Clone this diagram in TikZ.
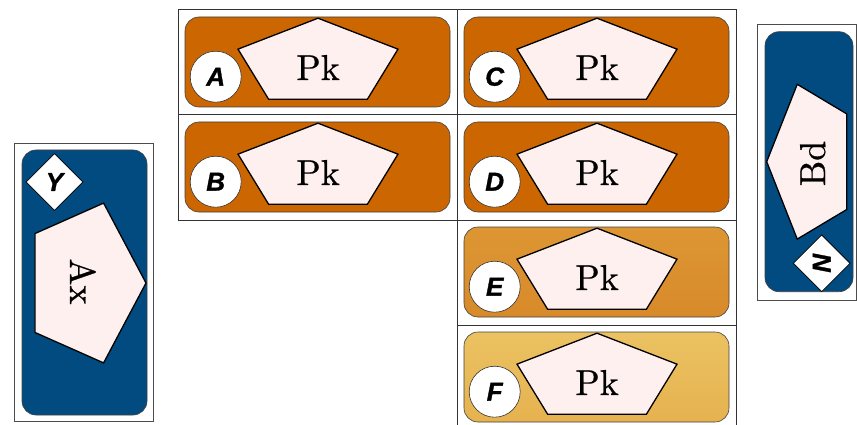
\documentclass[tikz,border=0pt]{standalone}
\usepackage{fontspec}
\newfontfamily\lettfont{Liberation Sans}[FakeBold=1.2]
\newfontfamily\pkfont{lmroman10-regular}[Extension=.otf, FakeBold=0.6]
\usetikzlibrary{shapes.geometric}
\definecolor{orng}{HTML}{CC6600}
\definecolor{etop}{HTML}{DD9633}
\definecolor{ebot}{HTML}{D88A2A}
\definecolor{ftop}{HTML}{EBC262}
\definecolor{fbot}{HTML}{E6B24F}
\definecolor{navy}{HTML}{014B80}
\definecolor{pinkish}{HTML}{FFF0F0}
\newcommand{\pkcell}[5]{%
  \draw[cellline] (#2,#3) rectangle ({#2+279},{#3+105});
  \draw[boxline,#4] ({#2+7},{#3+7}) rectangle ({#2+272},{#3+97});
  \coordinate (#1p) at ({#2+140},{#3+53});
  \draw[pent, shift={(#1p)}] (0,-44.8) -- (80.0,-13.84) -- (49.4,36.2) -- (-49.4,36.2) -- (-80.0,-13.84) -- cycle;
  \node[pktext] (#1t) at ({#2+140},{#3+70}) {Pk};
  \node[lettcirc] (#1) at ({#2+37.7},{#3+66.7}) {#5};
}
\begin{document}
\begin{tikzpicture}[x=1pt,y=-1pt,
  cellline/.style={draw=black!80, line width=1pt},
  thinline/.style={draw=black!70, line width=0.8pt},
  boxline/.style={draw=black!75, line width=0.6pt, rounded corners=14pt},
  pent/.style={draw=black, line width=1.3pt, fill=pinkish, line join=miter},
  pktext/.style={anchor=base, inner sep=0pt, font=\pkfont\fontsize{36}{36}\selectfont},
  lettcirc/.style={circle, draw=black!80, line width=0.6pt, fill=white, minimum size=51pt, inner sep=0pt, font=\lettfont\bfseries\itshape\fontsize{26}{26}\selectfont},
  diam/.style={diamond, draw=black, line width=0.8pt, fill=white, minimum width=57pt, minimum height=57pt, inner sep=0pt, font=\lettfont\bfseries\itshape\fontsize{26}{26}\selectfont}
]
\useasboundingbox (0,0) rectangle (857,425);
% left panel
\draw[thinline] (14.5,143.5) rectangle (153,421.5);
\draw[boxline, fill=navy] (22,150) rectangle (147,415);
\coordinate (axp) at (84.6,283);
\draw[pent, shift={(axp)}] (61.4,0) -- (19.0,-79.9) -- (-49.7,-49.4) -- (-49.7,49.4) -- (19.0,79.9) -- cycle;
\node[pktext, rotate=-90] (axt) at (70,281.5) {Ax};
\node[diam] (Y) at (54.5,182) {Y};
% middle cells
\pkcell{A}{178}{10}{fill=orng}{A}
\pkcell{B}{178}{115}{fill=orng}{B}
\pkcell{C}{457}{10}{fill=orng}{C}
\pkcell{D}{457}{115}{fill=orng}{D}
\pkcell{E}{457}{220}{top color=etop, bottom color=ebot}{E}
\pkcell{F}{457}{325}{top color=ftop, bottom color=fbot}{F}
% right panel
\draw[thinline] (757,24.5) rectangle (856.5,300);
\draw[boxline, fill=navy] (765,31.7) rectangle (853,291.7);
\coordinate (bdp) at (810.9,161.7);
\draw[pent, shift={(bdp)}] (-44.2,0) -- (-13.66,-77.4) -- (35.8,-47.8) -- (35.8,47.8) -- (-13.66,77.4) -- cycle;
\node[pktext, rotate=90] (bdt) at (825,163.5) {Bd};
\node[diam, rotate=90] (N) at (821.7,263.3) {N};
\end{tikzpicture}
\end{document}
